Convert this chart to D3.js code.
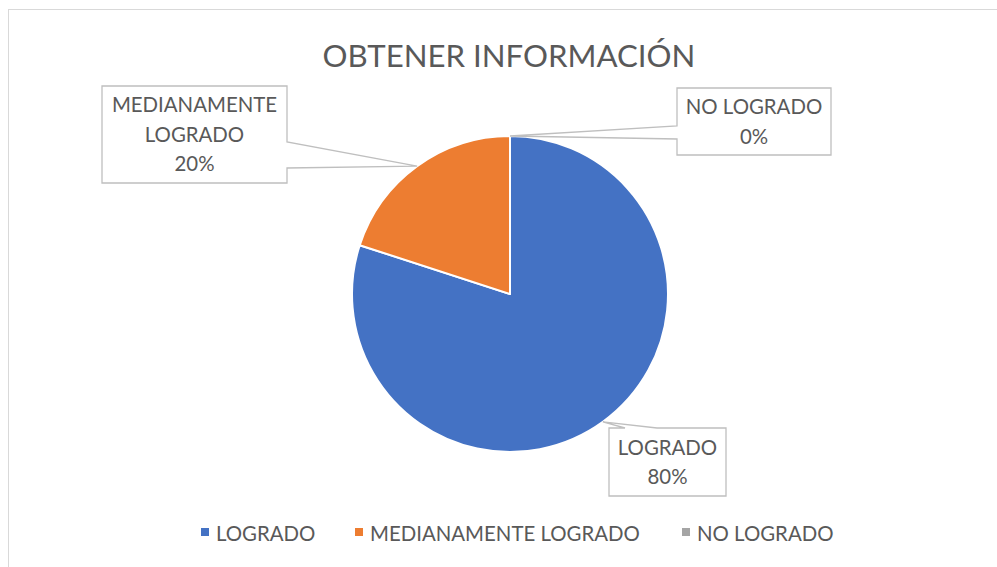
<!DOCTYPE html>
<html lang="es">
<head>
<meta charset="utf-8" />
<title>Obtener información</title>
<script src="https://d3js.org/d3.v7.min.js"></script>
<style>
  html, body { margin: 0; padding: 0; background: #ffffff; }
  svg { display: block; font-family: Lato, "Open Sans", sans-serif; }
  text { fill: #595959; }
</style>
</head>
<body>
<svg width="997" height="567"></svg>
<script>
// data
var categories = ["LOGRADO", "MEDIANAMENTE LOGRADO", "NO LOGRADO"];
var values = [80, 20, 0];
var colors = ["#4472C4", "#ED7D31", "#A5A5A5"];
var title = "OBTENER INFORMACIÓN";

var svg = d3.select("svg");

// chart area border
svg.append("rect")
  .attr("x", 8.5).attr("y", 9.5)
  .attr("width", 1100).attr("height", 700)
  .attr("fill", "#ffffff")
  .attr("stroke", "#D9D9D9");

// shrink / grow a text so its widest line is w px
function fit(sel, w) {
  var max = 0;
  sel.each(function() { max = Math.max(max, this.getComputedTextLength()); });
  var fs = parseFloat(sel.attr("font-size"));
  sel.attr("font-size", fs * w / max);
  return fs * w / max;
}

var t = svg.append("text")
  .attr("x", 509).attr("y", 67)
  .attr("text-anchor", "middle")
  .attr("font-size", 30)
  .text(title);
fit(t, 373);

// pie
var cx = 510, cy = 294, r = 158;
var pie = d3.pie().sort(null).value(function(d) { return d; });
var arcs = pie(values);
var arc = d3.arc().innerRadius(0).outerRadius(r);
var edge = d3.arc().innerRadius(r).outerRadius(r);

var g = svg.append("g").attr("transform", "translate(" + cx + "," + cy + ")");
g.selectAll("path")
  .data(arcs)
  .enter().append("path")
  .attr("d", arc)
  .attr("fill", function(d, i) { return colors[i]; })
  .attr("stroke", "#ffffff")
  .attr("stroke-width", 2)
  .attr("stroke-linejoin", "round");

// callout boxes (layout only)
var boxes = [
  { x0: 609, y0: 428, x1: 726, y1: 496, side: "top", a: 625, b: 657 },
  { x0: 102, y0: 86, x1: 287, y1: 183, side: "right", a: 142, b: 168 },
  { x0: 677, y0: 88, x1: 831, y1: 155, side: "left", a: 126, b: 139 }
];

function callout(b, tip) {
  var p = d3.path();
  p.moveTo(b.x0, b.y0);
  if (b.side == "top") { p.lineTo(b.a, b.y0); p.lineTo(tip[0], tip[1]); p.lineTo(b.b, b.y0); }
  p.lineTo(b.x1, b.y0);
  if (b.side == "right") { p.lineTo(b.x1, b.a); p.lineTo(tip[0], tip[1]); p.lineTo(b.x1, b.b); }
  p.lineTo(b.x1, b.y1);
  p.lineTo(b.x0, b.y1);
  if (b.side == "left") { p.lineTo(b.x0, b.b); p.lineTo(tip[0], tip[1]); p.lineTo(b.x0, b.a); }
  p.closePath();
  return p.toString();
}

var labelLines = [
  [categories[0], values[0] + "%"],
  ["MEDIANAMENTE", "LOGRADO", values[1] + "%"],
  [categories[2], values[2] + "%"]
];

var labelFs = 20;
// legend first, to get one common font size
var legendX = [216, 370, 697];
var leg = svg.append("g");
var legText = leg.selectAll("text")
  .data(categories)
  .enter().append("text")
  .attr("x", function(d, i) { return legendX[i]; })
  .attr("y", 541)
  .attr("font-size", 20)
  .text(function(d) { return d; });
labelFs = fit(legText.filter(function(d, i) { return i == 1; }), 270);
legText.attr("font-size", labelFs);
leg.selectAll("rect")
  .data(categories)
  .enter().append("rect")
  .attr("x", function(d, i) { return legendX[i] - 15; })
  .attr("y", 528)
  .attr("width", 8).attr("height", 8)
  .attr("fill", function(d, i) { return colors[i]; });

arcs.forEach(function(d, i) {
  var c = edge.centroid(d);
  var tip = [cx + c[0], cy + c[1]];
  var b = boxes[i];
  svg.append("path")
    .attr("d", callout(b, tip))
    .attr("fill", "#ffffff")
    .attr("stroke", "#BFBFBF")
    .attr("stroke-width", 1.3);
  var lines = labelLines[i];
  var mid = (b.y0 + b.y1) / 2;
  var lh = 29.5;
  var y0 = mid - (lines.length - 1) * lh / 2 + labelFs * 0.36;
  lines.forEach(function(s, k) {
    svg.append("text")
      .attr("x", (b.x0 + b.x1) / 2)
      .attr("y", y0 + k * lh)
      .attr("text-anchor", "middle")
      .attr("font-size", labelFs)
      .text(s);
  });
});
</script>
</body>
</html>
